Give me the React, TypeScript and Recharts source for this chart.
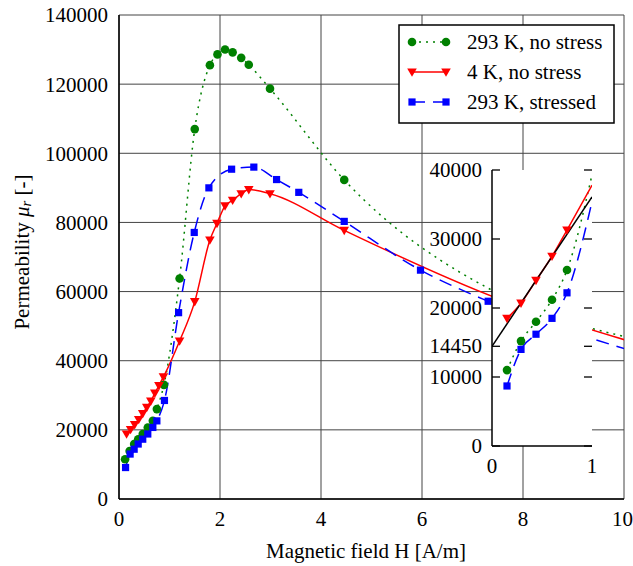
import { LineChart, Line, XAxis, YAxis, CartesianGrid } from 'recharts'

const FONT = "'Liberation Serif', 'Times New Roman', Times, 'DejaVu Serif', serif"

// main plot: H [A/m] vs permeability
const greenH = [0.12, 0.21, 0.30, 0.38, 0.47, 0.57, 0.67, 0.75, 0.89, 1.20, 1.50, 1.80, 1.95, 2.10, 2.25, 2.42, 2.57, 2.99, 4.46, 7.50, 10.3]
const greenMu = [11500, 13900, 15900, 17300, 18800, 20700, 22600, 26000, 33000, 63800, 107000, 125500, 128600, 130000, 129200, 127600, 125600, 118700, 92300, 59500, 46000]

const redH = [0.15, 0.23, 0.31, 0.39, 0.47, 0.55, 0.63, 0.71, 0.79, 0.88, 1.20, 1.50, 1.80, 1.94, 2.10, 2.25, 2.42, 2.57, 2.99, 4.46, 7.50, 10.3]
const redMu = [18800, 20100, 21500, 23000, 24700, 26500, 28300, 30600, 32800, 35300, 45700, 57100, 74900, 79700, 84800, 86400, 88300, 89500, 88300, 77700, 58000, 44800]

const blueH = [0.13, 0.22, 0.30, 0.38, 0.47, 0.57, 0.67, 0.75, 0.90, 1.18, 1.49, 1.78, 2.23, 2.67, 3.12, 3.56, 4.46, 5.97, 7.31, 10.3]
const blueMu = [9100, 13000, 14400, 15900, 17300, 18800, 20700, 22600, 28500, 53900, 77100, 90000, 95400, 96000, 92400, 88700, 80300, 66200, 57200, 42200]

const xTicks = [0, 2, 4, 6, 8, 10]
const yTicks = [0, 20000, 40000, 60000, 80000, 100000, 120000, 140000]

// inset: zoom on 0..1 A/m
const insetH = [0.15, 0.29, 0.44, 0.60, 0.75]
const insetGreen = [11000, 15200, 18000, 21200, 25500]
const insetRed = [18500, 20700, 24000, 27500, 31300]
const insetBlue = [8700, 14000, 16200, 18500, 22200]
const insetEndH = 1
const insetGreenEnd = 39300
const insetRedEnd = 37800
const insetBlueEnd = 35400
const fitH = [0, 1]
const fitMu = [14450, 36100]
const insetYTicks = [0, 10000, 14450, 20000, 30000, 40000]
const insetXTicks = [0, 1]

const toPts = (xs: number[], ys: number[]) => xs.map((x, i) => ({ x, y: ys[i] }))

const GREEN = '#008000'
const RED = '#ff0000'
const BLUE = '#0000ff'

const circleDot = (p: any) =>
  p.cx == null ? <g key={`c${p.index}`} /> :
  <circle key={`c${p.index}`} cx={p.cx} cy={p.cy} r={4.3} fill={GREEN} />

const triDot = (p: any) =>
  p.cx == null ? <g key={`t${p.index}`} /> :
  <polygon key={`t${p.index}`} fill={RED}
    points={`${p.cx - 4.8},${p.cy - 3.6} ${p.cx + 4.8},${p.cy - 3.6} ${p.cx},${p.cy + 4.8}`} />

const squareDot = (p: any) =>
  p.cx == null ? <g key={`s${p.index}`} /> :
  <rect key={`s${p.index}`} x={p.cx - 3.6} y={p.cy - 3.6} width={7.2} height={7.2} fill={BLUE} />

const tickStyle = { fill: '#000', fontSize: 21, fontFamily: FONT }

function YLabel() {
  return (
    <text x={22} y={252} transform="rotate(-90 22 252)" textAnchor="middle" dominantBaseline="central"
      fontFamily={FONT} fontSize={21} fill="#000">
      Permeability <tspan fontStyle="italic">μ</tspan>
      <tspan fontStyle="italic" fontSize={15} dy={4}>r</tspan>
      <tspan dy={-4}> [-]</tspan>
    </text>
  )
}

function XLabel() {
  return (
    <text x={366} y={558} textAnchor="middle" fontFamily={FONT} fontSize={21} fill="#000">
      Magnetic field H [A/m]
    </text>
  )
}

function InsetYTick(props: any) {
  const { x, y, payload } = props
  const left = x + 10
  return (
    <g>
      <line x1={left} x2={left + 8} y1={y} y2={y} stroke="#000" strokeWidth={1.3} />
      <line x1={left + 92} x2={left + 100} y1={y} y2={y} stroke="#000" strokeWidth={1.3} />
      <text x={x} y={y} textAnchor="end" dominantBaseline="central" fontFamily={FONT} fontSize={21} fill="#000">
        {payload.value}
      </text>
    </g>
  )
}

function LegendBox() {
  const rows = [
    { label: '293 K, no stress', color: GREEN, dash: '2 5', kind: 'c' },
    { label: '4 K, no stress', color: RED, dash: undefined, kind: 't' },
    { label: '293 K, stressed', color: BLUE, dash: '13 8', kind: 's' },
  ]
  return (
    <svg width={217} height={100} style={{ position: 'absolute', left: 398, top: 24 }}>
      <rect x={1} y={1} width={215} height={98} fill="#fff" stroke="#000" strokeWidth={1.5} />
      {rows.map((r, i) => {
        const cy = 18 + i * 30
        const mk = (cx: number) =>
          r.kind === 'c' ? <circle cx={cx} cy={cy} r={4.3} fill={r.color} /> :
          r.kind === 't' ? <polygon fill={r.color} points={`${cx - 4.8},${cy - 3.6} ${cx + 4.8},${cy - 3.6} ${cx},${cy + 4.8}`} /> :
          <rect x={cx - 3.6} y={cy - 3.6} width={7.2} height={7.2} fill={r.color} />
        return (
          <g key={r.label}>
            <line x1={14} x2={48} y1={cy} y2={cy} stroke={r.color} strokeWidth={1.5} strokeDasharray={r.dash} />
            {mk(14)}
            {mk(48)}
            <text x={69} y={cy} dominantBaseline="central" fontFamily={FONT} fontSize={21} fill="#000">{r.label}</text>
          </g>
        )
      })}
    </svg>
  )
}

export default function App() {
  const green = toPts(greenH, greenMu)
  const red = toPts(redH, redMu)
  const blue = toPts(blueH, blueMu)

  const inG = toPts(insetH, insetGreen)
  const inR = toPts(insetH, insetRed)
  const inB = toPts(insetH, insetBlue)
  const inGLine = [...inG, { x: insetEndH, y: insetGreenEnd }]
  const inRLine = [...inR, { x: insetEndH, y: insetRedEnd }]
  const inBLine = [...inB, { x: insetEndH, y: insetBlueEnd }]
  const fit = toPts(fitH, fitMu)

  return (
    <div style={{ position: 'absolute', left: 0, top: 0, width: 633, height: 566, background: '#fff', fontFamily: FONT }}>
      <LineChart width={633} height={566} margin={{ top: 15, right: 9, left: 0, bottom: 0 }}>
        <CartesianGrid stroke="#444" strokeWidth={1} />
        <XAxis dataKey="x" type="number" domain={[0, 10]} ticks={xTicks} allowDataOverflow
          height={67} tickLine={false} tickSize={0} tickMargin={12} tick={tickStyle}
          axisLine={{ stroke: '#000', strokeWidth: 1.5 }} label={<XLabel />} />
        <XAxis xAxisId="top" orientation="top" type="number" domain={[0, 10]} height={0}
          tick={false} tickLine={false} axisLine={{ stroke: '#000', strokeWidth: 1.5 }} />
        <YAxis type="number" domain={[0, 140000]} ticks={yTicks} allowDataOverflow interval={0}
          width={119} tickLine={false} tickSize={0} tickMargin={11} tick={tickStyle}
          axisLine={{ stroke: '#000', strokeWidth: 1.5 }} label={<YLabel />} />
        <YAxis yAxisId="right" orientation="right" type="number" domain={[0, 140000]} width={0}
          tick={false} tickLine={false} axisLine={{ stroke: '#000', strokeWidth: 1.5 }} />
        <Line data={green} dataKey="y" type="monotone" stroke={GREEN} strokeWidth={1.5}
          strokeDasharray="2 5" dot={circleDot} activeDot={false} isAnimationActive={false} />
        <Line data={red} dataKey="y" type="monotone" stroke={RED} strokeWidth={1.5}
          dot={triDot} activeDot={false} isAnimationActive={false} />
        <Line data={blue} dataKey="y" type="monotone" stroke={BLUE} strokeWidth={1.5}
          strokeDasharray="13 8" dot={squareDot} activeDot={false} isAnimationActive={false} />
      </LineChart>

      <LegendBox />

      <div style={{ position: 'absolute', left: 420, top: 155 }}>
        <LineChart width={180} height={345} margin={{ top: 15, right: 8, left: 0, bottom: 0 }}>
          <CartesianGrid horizontal={false} vertical={false} fill="#fff" fillOpacity={1} />
          <XAxis dataKey="x" type="number" domain={[0, 1]} ticks={insetXTicks} allowDataOverflow interval={0}
            height={54} tickLine={false} tickSize={0} tickMargin={12} tick={tickStyle}
            axisLine={{ stroke: '#000', strokeWidth: 1.5 }} />
          <XAxis xAxisId="top" orientation="top" type="number" domain={[0, 1]} height={0}
            tick={false} tickLine={false} axisLine={{ stroke: '#000', strokeWidth: 1.5 }} />
          <YAxis type="number" domain={[0, 40000]} ticks={insetYTicks} allowDataOverflow interval={0}
            width={72} tickLine={false} tickSize={0} tickMargin={10} tick={<InsetYTick />}
            axisLine={{ stroke: '#000', strokeWidth: 1.5 }} />
          <YAxis yAxisId="right" orientation="right" type="number" domain={[0, 40000]} width={0}
            tick={false} tickLine={false} axisLine={{ stroke: '#000', strokeWidth: 1.5 }} />
          <Line data={inGLine} dataKey="y" type="monotone" stroke={GREEN} strokeWidth={1.5}
            strokeDasharray="2 5" dot={false} activeDot={false} isAnimationActive={false} />
          <Line data={inRLine} dataKey="y" type="monotone" stroke={RED} strokeWidth={1.5}
            dot={false} activeDot={false} isAnimationActive={false} />
          <Line data={inBLine} dataKey="y" type="monotone" stroke={BLUE} strokeWidth={1.5}
            strokeDasharray="13 8" dot={false} activeDot={false} isAnimationActive={false} />
          <Line data={fit} dataKey="y" type="linear" stroke="#000" strokeWidth={1.5}
            dot={false} activeDot={false} isAnimationActive={false} />
          <Line data={inG} dataKey="y" stroke="none" dot={circleDot} activeDot={false} isAnimationActive={false} />
          <Line data={inR} dataKey="y" stroke="none" dot={triDot} activeDot={false} isAnimationActive={false} />
          <Line data={inB} dataKey="y" stroke="none" dot={squareDot} activeDot={false} isAnimationActive={false} />
        </LineChart>
      </div>
    </div>
  )
}
